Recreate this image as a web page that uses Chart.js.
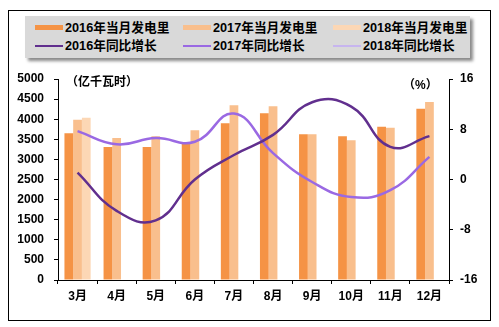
<!DOCTYPE html>
<html>
<head>
<meta charset="utf-8">
<script src="https://cdn.jsdelivr.net/npm/chart.js@4/dist/chart.umd.min.js"></script>
<style>
  html, body { margin: 0; padding: 0; background: #fff; }
  #wrap { position: relative; width: 499px; height: 327px; overflow: hidden; font-family: "Liberation Sans", Arial, "Noto Sans CJK SC", sans-serif; }
  #frame { position: absolute; left: 8px; top: 10px; width: 481px; height: 309px; border: 1px solid #000; }
  #legend { position: absolute; left: 25px; top: 16px; width: 445px; height: 42px; background: #d9d9d9; box-shadow: 3px 3px 3px #8a8a8a; }
  .item { position: absolute; font-size: 12.7px; font-weight: bold; color: #000; line-height: 16px; white-space: nowrap; }
  .sw { position: absolute; }
  .lbl { position: absolute; font-size: 12px; font-weight: bold; color: #000; white-space: nowrap; line-height: 14px; }
  canvas { position: absolute; left: 0; top: 0; }
</style>
</head>
<body>
<div id="wrap">
  <div id="frame"></div>
  <div id="legend"></div>
  <canvas id="c" width="499" height="327"></canvas>
  <div class="lbl" style="left:66px; top:75px;">（亿千瓦时）</div>
  <div class="lbl" style="left:403px; top:78px;">（%）</div>
</div>
<script>
const categories = ["3月", "4月", "5月", "6月", "7月", "8月", "9月", "10月", "11月", "12月"];
const gen2016 = [3650, 3310, 3310, 3420, 3900, 4150, 3625, 3575, 3810, 4260];
const gen2017 = [3985, 3535, 3575, 3725, 4350, 4325, 3625, 3475, 3785, 4425];
const gen2018 = [4035, null, null, null, null, null, null, null, null, null];
const yoy2016 = [1.1, -5.0, -6.5, 0.0, 3.9, 7.1, 12.3, 11.6, 5.2, 6.9];
const yoy2017 = [7.7, 5.6, 6.6, 6.0, 10.5, 4.2, -0.4, -2.8, -1.7, 3.6];
const yoy2018 = [null, null, null, null, null, null, null, null, null, null];
const seriesNames = ["2016年当月发电里", "2017年当月发电里", "2018年当月发电里", "2016年同比增长", "2017年同比增长", "2018年同比增长"];
const leftTicks = [0, 500, 1000, 1500, 2000, 2500, 3000, 3500, 4000, 4500, 5000];
const rightTicks = [-16, -8, 0, 8, 16];

const barColors = ["#f59345", "#f9bf8d", "#fcd7b5"];
const lineColors = ["#612f8e", "#9a69e3", "#c7b5ef"];

// legend
const legend = document.getElementById('legend');
const colX = [10, 158, 308];
const rowY = [4, 22];
seriesNames.forEach((name, i) => {
  const col = i % 3, row = Math.floor(i / 3);
  const sw = document.createElement('div');
  sw.className = 'sw';
  if (row === 0) {
    sw.style.cssText = `left:${colX[col]}px; top:${rowY[row] + 5}px; width:28px; height:5px; background:${barColors[col]};`;
  } else {
    sw.style.cssText = `left:${colX[col]}px; top:${rowY[row] + 7}px; width:28px; height:2px; background:${lineColors[col]};`;
  }
  legend.appendChild(sw);
  const t = document.createElement('div');
  t.className = 'item';
  t.style.left = (colX[col] + 30) + 'px';
  t.style.top = rowY[row] + 'px';
  t.textContent = name;
  legend.appendChild(t);
});

const tickFont = { family: '"Liberation Sans", Arial, "Noto Sans CJK SC", sans-serif', size: 12, weight: 'bold' };

new Chart(document.getElementById('c'), {
  data: {
    labels: categories,
    datasets: [
      { type: 'bar', label: seriesNames[0], data: gen2016, backgroundColor: barColors[0], yAxisID: 'y', order: 2, categoryPercentage: 0.67, barPercentage: 1 },
      { type: 'bar', label: seriesNames[1], data: gen2017, backgroundColor: barColors[1], yAxisID: 'y', order: 2, categoryPercentage: 0.67, barPercentage: 1 },
      { type: 'bar', label: seriesNames[2], data: gen2018, backgroundColor: barColors[2], yAxisID: 'y', order: 2, categoryPercentage: 0.67, barPercentage: 1 },
      { type: 'line', label: seriesNames[3], data: yoy2016, borderColor: lineColors[0], borderWidth: 2.5, pointRadius: 0, tension: 0.45, yAxisID: 'y1', order: 1 },
      { type: 'line', label: seriesNames[4], data: yoy2017, borderColor: lineColors[1], borderWidth: 2.5, pointRadius: 0, tension: 0.45, yAxisID: 'y1', order: 1 },
      { type: 'line', label: seriesNames[5], data: yoy2018, borderColor: lineColors[2], borderWidth: 2.5, pointRadius: 0, tension: 0.45, yAxisID: 'y1', order: 1 }
    ]
  },
  options: {
    responsive: false,
    animation: false,
    layout: { padding: { left: 0, right: 0, top: 79, bottom: 0 } },
    plugins: { legend: { display: false }, tooltip: { enabled: false } },
    scales: {
      x: {
        type: 'category',
        offset: true,
        grid: { display: true, drawOnChartArea: false, drawTicks: true, tickLength: 4, color: '#000', offset: true },
        border: { display: true, color: '#000', width: 1 },
        ticks: { color: '#000', font: tickFont, padding: 5, maxRotation: 0 },
        afterFit: s => { s.height = 47; }
      },
      y: {
        position: 'left',
        min: 0, max: 5000,
        afterBuildTicks: s => { s.ticks = leftTicks.map(v => ({ value: v })); },
        grid: { display: true, drawOnChartArea: false, drawTicks: true, tickLength: 4, color: '#000' },
        border: { display: true, color: '#000', width: 1 },
        ticks: { color: '#000', font: tickFont, padding: 10, callback: v => String(v) },
        afterFit: s => { s.width = 58; }
      },
      y1: {
        position: 'right',
        min: -16, max: 16,
        afterBuildTicks: s => { s.ticks = rightTicks.map(v => ({ value: v })); },
        grid: { display: true, drawOnChartArea: false, drawTicks: true, tickLength: 4, color: '#000' },
        border: { display: true, color: '#000', width: 1 },
        ticks: { color: '#000', font: tickFont, padding: 7, callback: v => String(v) },
        afterFit: s => { s.width = 50; }
      }
    }
  }
});
</script>
</body>
</html>
